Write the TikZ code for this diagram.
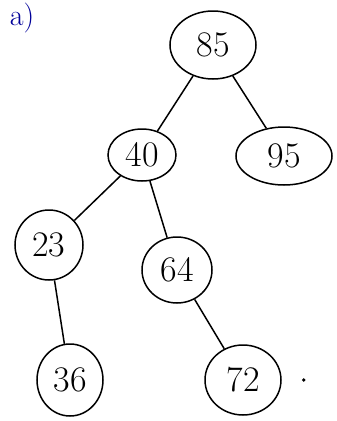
\documentclass[tikz,border=0pt]{standalone}
\usetikzlibrary{shapes.geometric}
\tikzset{key/.style={draw,ellipse,line width=1.5pt,inner sep=0pt,font=\fontsize{36}{38}\selectfont}}
\begin{document}
\begin{tikzpicture}[x=1pt,y=-1pt]
\useasboundingbox (0,0) rectangle (337,421);
\node[key,minimum width=86,minimum height=68] (n85) at (213,45) {85};
\node[key,minimum width=68,minimum height=52] (n40) at (142,155) {40};
\node[key,minimum width=96,minimum height=58] (n95) at (284,156) {95};
\node[key,minimum width=68,minimum height=70] (n23) at (49,245) {23};
\node[key,minimum width=70,minimum height=66] (n64) at (177,270) {64};
\node[key,minimum width=66,minimum height=72] (n36) at (70,380) {36};
\node[key,minimum width=76,minimum height=70] (n72) at (243,380) {72};
\draw[line width=1.5pt] (n85) -- (n40);
\draw[line width=1.5pt] (n85) -- (n95);
\draw[line width=1.5pt] (n40) -- (n23);
\draw[line width=1.5pt] (n40) -- (n64);
\draw[line width=1.5pt] (n23) -- (n36);
\draw[line width=1.5pt] (n64) -- (n72);
\fill (n72.east) ++(22,0) circle (1.8);
\node[blue!60!black,font=\fontsize{30}{32}\selectfont] (lbl) at (22,18) {a)};
\end{tikzpicture}
\end{document}
